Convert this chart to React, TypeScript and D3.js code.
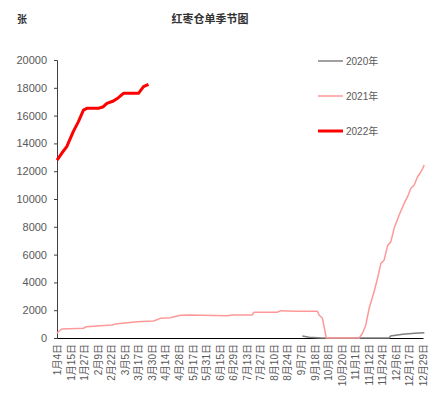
import React, { useEffect, useRef } from 'react';
import * as d3 from 'd3';

// x labels (trading-day categories shown on the axis)
const dateLabels = [
  '1月4日', '1月15日', '1月27日', '2月9日', '2月22日', '3月5日', '3月17日', '3月30日',
  '4月14日', '4月28日', '5月17日', '5月31日', '6月15日', '6月29日', '7月13日', '7月27日',
  '8月10日', '8月24日', '9月7日', '9月18日', '10月8日', '10月20日', '11月1日', '11月12日',
  '11月24日', '12月6日', '12月17日', '12月29日',
];

const yTicks = [0, 2000, 4000, 6000, 8000, 10000, 12000, 14000, 16000, 18000, 20000];

// [position on the label axis, warehouse receipts]
const series2020: [number, number][] = [
  [18.1, 150], [18.6, 50], [19.5, 0], [24.5, 0], [24.6, 140], [25.5, 265], [26.4, 340], [27.1, 380],
];

const series2021: [number, number][] = [
  [0, 340], [0.1, 450], [0.35, 650], [1.95, 700], [2.15, 810], [4.05, 935], [4.29, 1000],
  [5.9, 1170], [7.12, 1220], [7.62, 1415], [8.36, 1460], [9.1, 1630], [9.84, 1655],
  [12.55, 1600], [12.92, 1655], [14.4, 1655], [14.52, 1850], [16.25, 1850], [16.49, 1965],
  [17.6, 1920], [19.21, 1920], [19.33, 1655], [19.58, 1415], [19.87, 0], [22.29, 0],
  [22.54, 340], [22.78, 935], [23.03, 2140], [23.39, 3330], [23.65, 4295], [23.89, 5370],
  [24.13, 5600], [24.39, 6650], [24.63, 6930], [24.87, 7890], [25.24, 8850], [25.61, 9690],
  [25.86, 10165], [26.11, 10770], [26.35, 11010], [26.6, 11600], [26.85, 11960],
  [26.98, 12200], [27.09, 12450],
];

const series2022: [number, number][] = [
  [0, 12800], [0.35, 13290], [0.72, 13770], [1.2, 14850], [1.58, 15570], [1.95, 16400],
  [2.2, 16520], [3.05, 16520], [3.42, 16640], [3.68, 16880], [4.16, 17050], [4.53, 17290],
  [4.9, 17600], [6.01, 17600], [6.38, 18080], [6.75, 18250],
];

const legendItems = [
  { name: '2020年', color: '#808080', width: 1.5, data: series2020 },
  { name: '2021年', color: '#FF9999', width: 1.5, data: series2021 },
  { name: '2022年', color: '#FF0000', width: 3, data: series2022 },
];

const W = 444;
const H = 397;
const FONT = '"Liberation Sans", "Noto Sans CJK SC", sans-serif';

const App = () => {
  const svgRef = useRef<SVGSVGElement>(null);

  useEffect(() => {
    const svg = d3.select(svgRef.current);
    svg.selectAll('*').remove();

    const marginLeft = 57;
    const plotRight = 423;
    const marginTop = 60;
    const plotBottom = 338;

    const x = d3.scaleLinear().domain([0, dateLabels.length - 1]).range([marginLeft, plotRight]);
    const y = d3.scaleLinear().domain([0, 20000]).range([plotBottom, marginTop]);

    // titles
    svg.append('text')
      .attr('x', 210).attr('y', 23)
      .attr('text-anchor', 'middle')
      .style('font-family', FONT).style('font-size', '11px').style('font-weight', 'bold')
      .style('fill', '#333')
      .text('红枣仓单季节图');
    svg.append('text')
      .attr('x', 22).attr('y', 23)
      .attr('text-anchor', 'middle')
      .style('font-family', FONT).style('font-size', '10px').style('font-weight', 'bold')
      .style('fill', '#333')
      .text('张');

    // y axis
    const yAxis = svg.append('g')
      .attr('transform', `translate(${marginLeft},0)`)
      .call(d3.axisLeft(y).tickValues(yTicks).tickSize(3).tickPadding(7).tickFormat(d3.format('d')));
    yAxis.select('.domain').style('stroke', '#404040');
    yAxis.selectAll('line').style('stroke', '#404040');
    yAxis.selectAll('text')
      .style('font-family', FONT).style('font-size', '11px').style('fill', '#595959');

    // x axis
    const xAxis = svg.append('g')
      .attr('transform', `translate(0,${plotBottom})`)
      .call(d3.axisBottom(x)
        .tickValues(d3.range(dateLabels.length))
        .tickSize(0)
        .tickPadding(0)
        .tickFormat((d) => dateLabels[d as number]));
    xAxis.select('.domain').style('stroke', '#000').style('stroke-width', 1.2);
    xAxis.selectAll('text')
      .style('font-family', FONT).style('font-size', '10px').style('fill', '#595959')
      .attr('transform', 'rotate(-90)')
      .attr('text-anchor', 'end')
      .attr('x', -6)
      .attr('y', 0)
      .attr('dy', '0.35em');

    // lines
    const line = d3.line<[number, number]>()
      .x(d => x(d[0]))
      .y(d => y(d[1]));

    legendItems.forEach(s => {
      svg.append('path')
        .datum(s.data)
        .attr('fill', 'none')
        .attr('stroke', s.color)
        .attr('stroke-width', s.width)
        .attr('stroke-linejoin', 'round')
        .attr('d', line);
    });

    // legend
    const legend = svg.append('g');
    legendItems.forEach((s, i) => {
      const ly = 61 + i * 35;
      legend.append('line')
        .attr('x1', 318).attr('x2', 343)
        .attr('y1', ly).attr('y2', ly)
        .attr('stroke', s.color)
        .attr('stroke-width', s.width);
      legend.append('text')
        .attr('x', 346).attr('y', ly)
        .attr('dy', '0.35em')
        .style('font-family', FONT).style('font-size', '10px').style('fill', '#595959')
        .text(s.name);
    });
  }, []);

  return (
    <svg
      ref={svgRef}
      width={W}
      height={H}
      style={{ position: 'absolute', left: 0, top: 0, background: '#fff' }}
    />
  );
};

export default App;
